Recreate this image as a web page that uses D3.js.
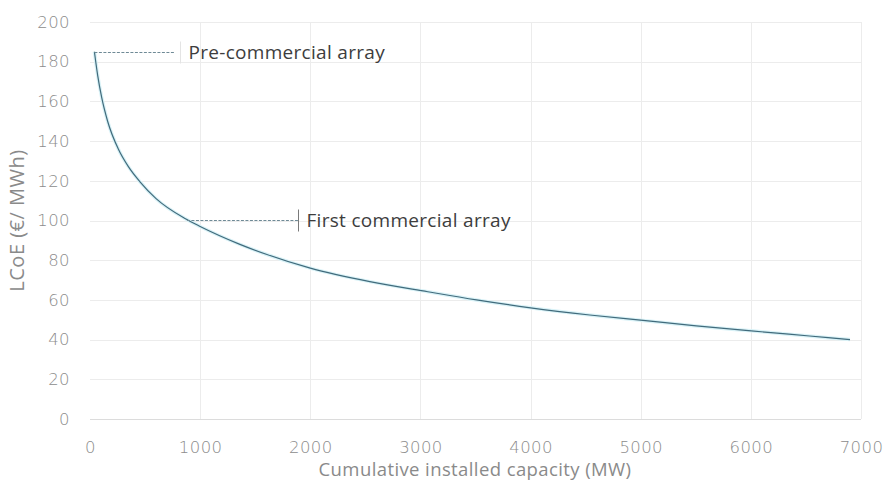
<!DOCTYPE html>
<html><head><meta charset="utf-8">
<script src="https://cdn.jsdelivr.net/npm/d3@7"></script>
<style>
html,body{margin:0;padding:0;background:#fff;}
svg{display:block;font-family:"Open Sans","Lato",sans-serif;}
</style></head>
<body><svg id="chart" width="890" height="482"></svg>
<script>
const capacityMW = [40, 70, 106, 160, 257, 350, 454, 600, 862, 1000, 1361, 1600, 2000, 2541, 3067, 3509, 4000, 4537, 5066, 5505, 6004, 6533, 6900];
const lcoe       = [185, 173, 162, 150, 136, 127, 119.5, 111, 101, 97, 88, 83, 76, 69.2, 64.1, 60, 56, 52.4, 49.4, 46.9, 44.4, 41.8, 40];
const xTicks = [0, 1000, 2000, 3000, 4000, 5000, 6000, 7000];
const yTicks = [0, 20, 40, 60, 80, 100, 120, 140, 160, 180, 200];
const annotLabels = ["Pre-commercial array", "First commercial array"];
const annotFromMW = [40, 880];
const annotToMW = [770, 1890];
const annotValue = [185, 100.5];
const xTitle = "Cumulative installed capacity (MW)";
const yTitle = "LCoE (\u20AC/ MWh)";

const svg = d3.select("#chart");
const x = d3.scaleLinear().domain([0, 7000]).range([90, 861]);
const y = d3.scaleLinear().domain([0, 200]).range([419, 22]);

// grid
svg.append("g").selectAll("line").data(yTicks).join("line")
  .attr("x1", x(0)).attr("x2", x(7000))
  .attr("y1", d => Math.round(y(d)) + 0.5).attr("y2", d => Math.round(y(d)) + 0.5)
  .attr("stroke", d => d === 0 ? "#dcdcdc" : "#ececec").attr("stroke-width", 1);
svg.append("g").selectAll("line").data(xTicks.filter(d => d > 0)).join("line")
  .attr("x1", d => Math.round(x(d)) + 0.5).attr("x2", d => Math.round(x(d)) + 0.5)
  .attr("y1", y(200)).attr("y2", y(0))
  .attr("stroke", "#ececec").attr("stroke-width", 1);

const tickFont = "'DejaVu Sans',sans-serif";
// axes (text only)
const yAxis = d3.axisLeft(y).tickValues(yTicks).tickSize(0).tickPadding(20);
const gy = svg.append("g").attr("transform", `translate(${x(0)},0)`).call(yAxis);
gy.select(".domain").remove();
gy.selectAll("text").attr("font-size", 16.5).attr("fill", "#8c8c8c")
  .attr("font-family", tickFont).attr("font-weight", 200).attr("letter-spacing", 0.4);

const xAxis = d3.axisBottom(x).tickValues(xTicks).tickSize(0).tickPadding(22).tickFormat(d3.format("d"));
const gx = svg.append("g").attr("transform", `translate(0,${y(0)})`).call(xAxis);
gx.select(".domain").remove();
gx.selectAll("text").attr("font-size", 16.5).attr("fill", "#8c8c8c")
  .attr("font-family", tickFont).attr("font-weight", 200).attr("letter-spacing", 0.4);

// titles
svg.append("text").attr("x", 475).attr("y", 476).attr("text-anchor", "middle")
  .attr("font-size", 18.5).attr("fill", "#8a8a8a").attr("letter-spacing", 0.4)
  .text(xTitle);
svg.append("text").attr("transform", `translate(24,${(y(0)+y(200))/2}) rotate(-90)`)
  .attr("text-anchor", "middle").attr("font-size", 20).attr("fill", "#8a8a8a")
  .attr("letter-spacing", 0.5).text(yTitle);

// curve halo + line
const line = d3.line().x((d, i) => x(capacityMW[i])).y(d => y(d)).curve(d3.curveMonotoneX);
svg.append("path").datum(lcoe).attr("d", line).attr("fill", "none")
  .attr("stroke", "#d9f2f7").attr("stroke-width", 3.5);
svg.append("path").datum(lcoe).attr("d", line).attr("fill", "none")
  .attr("stroke", "#416b7c").attr("stroke-width", 1.2);

// annotations
annotLabels.forEach((lab, i) => {
  const yy = Math.round(y(annotValue[i])) + 0.5;
  svg.append("line").attr("x1", x(annotFromMW[i])).attr("x2", x(annotToMW[i]))
    .attr("y1", yy).attr("y2", yy)
    .attr("stroke", "#6f8a96").attr("stroke-width", 1).attr("stroke-dasharray", "3,1.5");
  const tx = Math.round(x(annotToMW[i]) + (i === 0 ? 5 : 0)) + 0.5;
  svg.append("line").attr("x1", tx).attr("x2", tx).attr("y1", yy - 11).attr("y2", yy + 11)
    .attr("stroke", i === 0 ? "#e4e4e4" : "#7a7a7a").attr("stroke-width", 1);
  svg.append("text").attr("x", tx + 8).attr("y", yy).attr("dy", "0.36em")
    .attr("font-size", 19).attr("fill", "#3d3d3d").attr("letter-spacing", 0.3)
    .text(lab);
});
</script></body></html>
